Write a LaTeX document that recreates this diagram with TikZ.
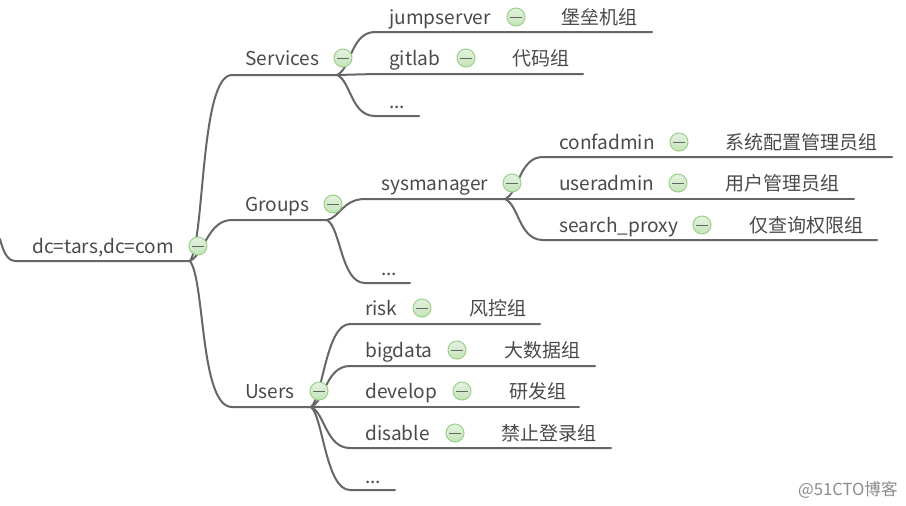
\documentclass[tikz,border=0pt]{standalone}
\usepackage{fontspec}
\setmainfont{Noto Sans CJK SC}[Scale=1]
\definecolor{inkc}{HTML}{4A4A4A}
\definecolor{linec}{HTML}{666666}
\tikzset{
  x=1pt,y=-1pt,
  conn/.style={draw=linec,line width=2pt,line cap=round,line join=round},
  lab/.style={anchor=base west,inner sep=0pt,text=inkc,font=\fontsize{19.1}{22}\selectfont},
  cjk/.style={anchor=base west,inner sep=0pt,xshift=-1pt,text=inkc,font=\fontsize{19}{22}\selectfont},
  tog/.style={circle,draw=togedge,line width=1pt,top color=toglight,bottom color=togdark,minimum size=18pt,inner sep=0pt,
    path picture={\draw[linec,line width=1pt] ([xshift=-6pt]path picture bounding box.center) -- ([xshift=6pt]path picture bounding box.center);}},
  mark label/.style={anchor=base west,inner sep=0pt,text=gray!90,font=\fontsize{16.6}{18}\selectfont}
}
\definecolor{togedge}{HTML}{9CCF8C}
\definecolor{toglight}{HTML}{E4F2DF}
\definecolor{togdark}{HTML}{C4E4B8}
\begin{document}
\begin{tikzpicture}
\fill[white] (0,0) rectangle (906,506);
\useasboundingbox (0,0) rectangle (906,506);
% coordinates: junctions and ends
\coordinate (r0) at (0,239);
\coordinate (r1) at (16,261);
\coordinate (j0) at (190,261);
\coordinate (sv0) at (232,75);   \coordinate (jsv) at (337,75);
\coordinate (gr0) at (232,220);  \coordinate (jgr) at (327,220);
\coordinate (us0) at (232,407);  \coordinate (jus) at (311,407);
\coordinate (a0) at (375,32);  \coordinate (a1) at (652,32);
\coordinate (b0) at (375,74);  \coordinate (b1) at (583,74);
\coordinate (c0) at (375,116); \coordinate (c1) at (419,116);
\coordinate (d0) at (365,199); \coordinate (jd) at (505,199);
\coordinate (e0) at (365,283); \coordinate (e1) at (410,283);
\coordinate (f0) at (543,157); \coordinate (f1) at (892,157);
\coordinate (g1) at (854,199);
\coordinate (h0) at (543,240); \coordinate (h1) at (877,240);
\coordinate (i0) at (350,324); \coordinate (i1) at (540,324);
\coordinate (k0) at (350,366); \coordinate (k1) at (595,366);
\coordinate (l1) at (579,407);
\coordinate (m0) at (350,448); \coordinate (m1) at (611,448);
\coordinate (n0) at (350,490); \coordinate (n1) at (395,490);
% connectors
\draw[conn] (r0) .. controls +(4,15) and +(-8,0) .. (r1) -- (j0);
\draw[conn] (j0) .. controls +(15,-21) and +(-32,0) .. (sv0) -- (jsv);
\draw[conn] (j0) .. controls +(15,-8) and +(-24,0) .. (gr0) -- (jgr);
\draw[conn] (j0) .. controls +(15,20) and +(-32,0) .. (us0) -- (jus);
\draw[conn] (jsv) .. controls +(14,-6) and +(-24,0) .. (a0) -- (a1);
\draw[conn] (jsv) -- (b0) -- (b1);
\draw[conn] (jsv) .. controls +(14,6) and +(-24,0) .. (c0) -- (c1);
\draw[conn] (jgr) .. controls +(12,-2) and +(-22,0) .. (d0) -- (jd);
\draw[conn] (jgr) .. controls +(14,8) and +(-24,0) .. (e0) -- (e1);
\draw[conn] (jd) .. controls +(14,-6) and +(-24,0) .. (f0) -- (f1);
\draw[conn] (jd) -- (g1);
\draw[conn] (jd) .. controls +(14,6) and +(-24,0) .. (h0) -- (h1);
\draw[conn] (jus) .. controls +(12,-10) and +(-24,0) .. (i0) -- (i1);
\draw[conn] (jus) .. controls +(14,-6) and +(-24,0) .. (k0) -- (k1);
\draw[conn] (jus) -- (l1);
\draw[conn] (jus) .. controls +(14,6) and +(-24,0) .. (m0) -- (m1);
\draw[conn] (jus) .. controls +(12,10) and +(-24,0) .. (n0) -- (n1);
% labels
\node[lab] (root) at (32,253) {dc=tars,dc=com};
\node[lab] (services) at (245,65) {Services};
\node[lab] (groups) at (245,211) {Groups};
\node[lab] (users) at (245,398) {Users};
\node[lab] (jump) at (389,24) {jumpserver};
\node[lab] (gitlab) at (389,65) {gitlab};
\node[lab] (more1) at (389,108) {...};
\node[lab] (sysm) at (381,190) {sysmanager};
\node[lab] (more2) at (381,275) {...};
\node[lab] (conf) at (559,149) {confadmin};
\node[lab] (usera) at (559,190) {useradmin};
\node[lab] (search) at (559,232) {search\_proxy};
\node[lab] (risk) at (365,315) {risk};
\node[lab] (bigd) at (365,357) {bigdata};
\node[lab] (dev) at (365,398) {develop};
\node[lab] (dis) at (365,440) {disable};
\node[lab] (more3) at (365,483) {...};
% Chinese labels
\node[cjk] (cjump) at (562,24) {堡垒机组};
\node[cjk] (cgit) at (513,65) {代码组};
\node[cjk] (cconf) at (726,149) {系统配置管理员组};
\node[cjk] (cuser) at (726,190) {用户管理员组};
\node[cjk] (csearch) at (750,232) {仅查询权限组};
\node[cjk] (crisk) at (470,315) {风控组};
\node[cjk] (cbig) at (505,357) {大数据组};
\node[cjk] (cdev) at (510,398) {研发组};
\node[cjk] (cdis) at (502,440) {禁止登录组};
% toggles
\node[tog] (t0) at (198,246) {};
\node[tog] (t1) at (343,58) {};
\node[tog] (t2) at (333,204) {};
\node[tog] (t3) at (319,391) {};
\node[tog] (t4) at (516,17) {};
\node[tog] (t5) at (466,58) {};
\node[tog] (t6) at (512,183) {};
\node[tog] (t7) at (679,142) {};
\node[tog] (t8) at (678,183) {};
\node[tog] (t9) at (702,225) {};
\node[tog] (t10) at (422,308) {};
\node[tog] (t11) at (457,350) {};
\node[tog] (t12) at (462,391) {};
\node[tog] (t13) at (455,433) {};
% watermark
\node[mark label] (wm) at (798,495) {@51CTO博客};
\end{tikzpicture}
\end{document}
